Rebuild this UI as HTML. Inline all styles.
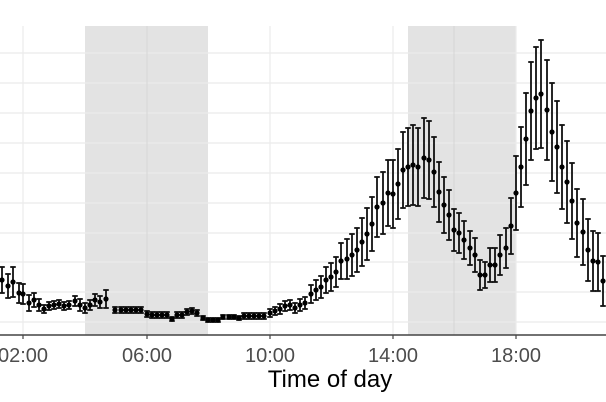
<!DOCTYPE html>
<html><head><meta charset="utf-8"><style>
html,body{margin:0;padding:0;background:#fff;}
svg{display:block;}
</style></head><body>
<svg id="s" width="606" height="402" xmlns="http://www.w3.org/2000/svg">
<rect x="85" y="26" width="123" height="309" fill="#e3e3e3"/>
<rect x="408" y="26" width="108" height="309" fill="#e3e3e3"/>
<g stroke="#ebebeb" stroke-width="1.2">
<line x1="0" x2="606" y1="53" y2="53"/><line x1="0" x2="606" y1="83" y2="83"/>
<line x1="0" x2="606" y1="113" y2="113"/><line x1="0" x2="606" y1="143" y2="143"/>
<line x1="0" x2="606" y1="173" y2="173"/><line x1="0" x2="606" y1="203" y2="203"/>
<line x1="0" x2="606" y1="233" y2="233"/><line x1="0" x2="606" y1="262" y2="262"/>
<line x1="0" x2="606" y1="292" y2="292"/><line x1="0" x2="606" y1="322" y2="322"/>
<line x1="23" x2="23" y1="26" y2="335"/><line x1="147" x2="147" y1="26" y2="335"/>
<line x1="270" x2="270" y1="26" y2="335"/><line x1="393" x2="393" y1="26" y2="335"/>
<line x1="516" x2="516" y1="26" y2="335"/>
</g>
<g stroke="#d6d6d6" stroke-width="1">
<line x1="147" x2="147" y1="26" y2="335"/><line x1="454" x2="454" y1="26" y2="335"/>
</g>
<g id="d"></g>
<line x1="0" x2="606" y1="335" y2="335" stroke="#444" stroke-width="1.5"/>
<g stroke="#444" stroke-width="1.2">
<line x1="23" x2="23" y1="335" y2="339"/><line x1="147" x2="147" y1="335" y2="339"/>
<line x1="270" x2="270" y1="335" y2="339"/><line x1="393" x2="393" y1="335" y2="339"/>
<line x1="516" x2="516" y1="335" y2="339"/>
</g>
<g font-family="Liberation Sans, sans-serif" font-size="20" fill="#4d4d4d" text-anchor="middle">
<text x="23" y="362">02:00</text><text x="147" y="362">06:00</text>
<text x="270" y="362">10:00</text><text x="393" y="362">14:00</text>
<text x="516" y="362">18:00</text>
</g>
<text x="330" y="387" font-family="Liberation Sans, sans-serif" font-size="24" fill="#000" text-anchor="middle">Time of day</text>
</svg>
<script>
var pts=[[2,280,13],[8,286,12],[13,282,15],[19,293,10],[23,294,10],[29,303,8],[34,300,7],[39,305,6],[44,309,4],[49,306,4],[54,305,4],[59,304,4],[64,306,4],[69,305,4],[75,301,5],[80,305,6],[85,308,5],[90,305,5],[95,300,6],[100,302,6],[106,299,9],
[115,310,3],[121,310,3],[126,310,3],[131,310,3],[136,310,3],[141,310,3],[147,314,3],[152,315,3],[157,315,3],[162,315,3],[167,315,3],[172,319,2],[177,315,3],[182,315,3],[187,312,3],[192,311,3],[197,313,3],[203,318,2],[208,320,2],[213,320,2],[218,320,2],[223,317,2],[229,317,2],[234,317,2],[239,318,2],[244,316,3],[249,316,3],[254,316,3],[259,316,3],[264,316,3],[270,313,4],[275,311,4],[280,309,5],[285,306,5],[290,305,5],[295,308,5],
[300,305,6],[305,303,6],[311,294,9],[316,290,10],[321,287,11],[326,280,13],[331,277,14],[336,272,15],[341,261,18],[347,259,20],[352,255,21],[357,250,22],[362,242,24],[367,234,26],[372,224,27],[377,207,30],[383,203,31],[388,193,33],[393,194,34],[398,184,35],[403,170,38],[408,167,39],[413,165,40],[418,167,39],[424,158,40],[429,160,39],[434,172,35],[439,192,30],[444,205,28],[449,215,25],[454,230,21],[459,233,20],[464,240,19],[470,248,17],[475,255,17],[480,275,15],[485,275,13],[490,265,17],[495,265,17],[500,255,20],[506,248,20],[511,226,28],[516,193,37],[521,167,40],[526,139,46],[531,111,49],[536,98,51],[541,94,54],[547,110,50],[552,132,49],[557,147,46],[562,167,42],[567,182,41],[572,201,38],[577,223,34],[583,232,33],[588,250,31],[593,261,30],[598,262,29],[603,281,25]];
var g=document.getElementById('d'),h='';
pts.forEach(function(p){var x=p[0],y=p[1],e=p[2];
h+='<line x1="'+x+'" x2="'+x+'" y1="'+(y-e)+'" y2="'+(y+e)+'" stroke="#111" stroke-width="1.8"/>';
h+='<line x1="'+(x-2.8)+'" x2="'+(x+2.8)+'" y1="'+(y-e)+'" y2="'+(y-e)+'" stroke="#111" stroke-width="1.8"/>';
h+='<line x1="'+(x-2.8)+'" x2="'+(x+2.8)+'" y1="'+(y+e)+'" y2="'+(y+e)+'" stroke="#111" stroke-width="1.8"/>';
h+='<circle cx="'+x+'" cy="'+y+'" r="2.6" fill="#000"/>';});
g.innerHTML=h;
</script>
</body></html>
